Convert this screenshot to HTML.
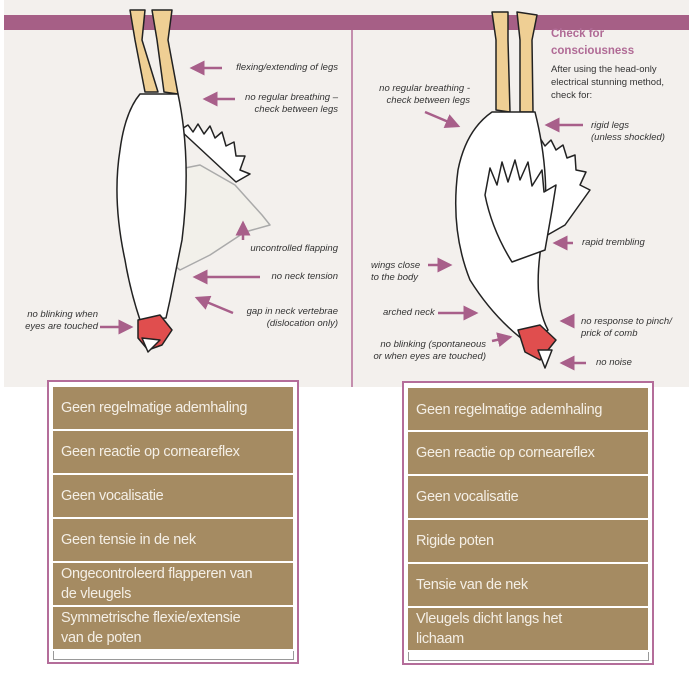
<!DOCTYPE html>
<html><head><meta charset="utf-8"><style>
body{margin:0;width:689px;height:676px;background:#fff;overflow:hidden;position:relative;font-family:"Liberation Sans",sans-serif}
.bg{position:absolute;left:4px;top:0;width:685px;height:387px;background:#f3f0ed}
.lab{position:absolute;font-style:italic;font-size:9.5px;color:#333;line-height:12px;white-space:nowrap}
.box{position:absolute;border:2px solid #b46d9a;background:#fff}
.cell{position:absolute;left:4px;width:240px;height:42px;background:#a58b62;color:#f4efe6;font-size:14.5px;line-height:20px;padding-left:8px;box-sizing:border-box;white-space:nowrap;letter-spacing:-0.3px}
</style></head><body>
<div class="bg"></div>
<svg width="689" height="390" style="position:absolute;left:0;top:0">
<defs><marker id="a" markerWidth="6" markerHeight="6" refX="5" refY="3" orient="auto"><path d="M0,0 L6,3 L0,6z" fill="#a85f8a"/></marker></defs>
<rect x="4" y="15" width="685" height="15" fill="#a65f86"/>
<line x1="352" y1="30" x2="352" y2="387" stroke="#b46d9a" stroke-width="1.5"/>
<!-- left chicken -->
<g stroke="#222" stroke-width="1.5" stroke-linejoin="round">
<path d="M130,10 L135,40 L145,92 L158,92 L142,40 L145,10Z M152,10 L157,40 L164,92 L178,94 L168,40 L172,10Z" fill="#efcf94"/>
<path d="M180,130 L188,125 L193,132 L198,124 L204,134 L210,126 L215,138 L222,132 L226,146 L234,142 L236,156 L245,156 L240,170 L250,174 L236,182 Z" fill="#fff"/>
<path d="M150,175 L200,165 L235,185 L262,215 L270,225 L245,232 L210,255 L180,270 L155,250Z" fill="#f2f0ea" stroke="#aaa"/>
<path d="M140,94 L178,94 Q192,160 182,240 Q174,280 170,300 L166,318 L140,320 Q130,290 125,260 Q112,200 120,150 Q125,112 140,94Z" fill="#fff"/>
<path d="M138,320 L160,315 L172,330 L162,345 L148,350 L138,338Z" fill="#e04e4e"/>
<path d="M142,338 L160,340 L148,352Z" fill="#fff"/>
</g>
<!-- right chicken -->
<g stroke="#222" stroke-width="1.5" stroke-linejoin="round">
<path d="M492,12 L496,40 L496,110 L510,112 L508,40 L508,12Z M517,12 L520,40 L520,112 L533,112 L532,40 L537,15Z" fill="#efcf94"/>
<path d="M532,145 L540,138 L545,146 L551,140 L556,150 L563,145 L567,158 L575,155 L576,170 L586,172 L580,185 L590,190 L565,225 L530,245Z" fill="#fff"/>
<path d="M492,112 L535,112 Q552,180 542,240 Q532,300 548,330 L530,345 Q495,320 470,280 Q450,230 458,170 Q466,130 492,112Z" fill="#fff"/>
<path d="M485,195 L490,168 L497,185 L502,162 L508,182 L515,160 L520,180 L528,162 L532,186 L542,170 L544,192 L556,185 L552,210 L545,250 L512,262 Q492,230 485,195Z" fill="#fff"/>
<path d="M518,330 L540,325 L556,340 L548,350 L540,360 L525,352Z" fill="#e04e4e"/>
<path d="M538,350 L552,350 L545,368Z" fill="#fff"/>
</g>
<g stroke="#a85f8a" stroke-width="2.5" marker-end="url(#a)" fill="none">
<line x1="222" y1="68" x2="192" y2="68"/><line x1="235" y1="99" x2="205" y2="99"/>
<line x1="243" y1="240" x2="243" y2="223"/><line x1="260" y1="277" x2="195" y2="277"/>
<line x1="233" y1="313" x2="197" y2="298"/><line x1="100" y1="327" x2="131" y2="327"/>
<line x1="425" y1="112" x2="458" y2="126"/><line x1="583" y1="125" x2="547" y2="125"/>
<line x1="573" y1="243" x2="555" y2="243"/><line x1="428" y1="265" x2="450" y2="265"/>
<line x1="438" y1="313" x2="476" y2="313"/><line x1="573" y1="321" x2="562" y2="321"/>
<line x1="492" y1="341" x2="510" y2="337"/><line x1="586" y1="363" x2="562" y2="363"/>
</g>
</svg>
<div class="lab" style="left:225px;top:62px;width:113px;text-align:right">flexing/extending of legs</div>
<div class="lab" style="left:220px;top:92px;width:118px;text-align:right">no regular breathing –<br>check between legs</div>
<div class="lab" style="left:220px;top:243px;width:118px;text-align:right">uncontrolled flapping</div>
<div class="lab" style="left:220px;top:271px;width:118px;text-align:right">no neck tension</div>
<div class="lab" style="left:220px;top:306px;width:118px;text-align:right">gap in neck vertebrae<br>(dislocation only)</div>
<div class="lab" style="left:10px;top:309px;width:88px;text-align:right">no blinking when<br>eyes are touched</div>
<div style="position:absolute;left:551px;top:26px;color:#b06a95;font-weight:bold;font-size:11.5px;line-height:17px">Check for<br>consciousness</div>
<div style="position:absolute;left:551px;top:63px;color:#333;font-size:9.5px;line-height:13px">After using the head-only<br>electrical stunning method,<br>check for:</div>
<div class="lab" style="left:360px;top:83px;width:110px;text-align:right">no regular breathing -<br>check between legs</div>
<div class="lab" style="left:591px;top:120px">rigid legs<br>(unless shockled)</div>
<div class="lab" style="left:582px;top:237px">rapid trembling</div>
<div class="lab" style="left:371px;top:260px">wings close<br>to the body</div>
<div class="lab" style="left:383px;top:307px">arched neck</div>
<div class="lab" style="left:581px;top:316px">no response to pinch/<br>prick of comb</div>
<div class="lab" style="left:362px;top:339px;width:124px;text-align:right">no blinking (spontaneous<br>or when eyes are touched)</div>
<div class="lab" style="left:596px;top:357px">no noise</div>

<div class="box" style="left:47px;top:380px;width:248px;height:280px">
<div class="cell" style="top:5px;padding-top:11px">Geen regelmatige ademhaling</div>
<div class="cell" style="top:49px;padding-top:11px">Geen reactie op corneareflex</div>
<div class="cell" style="top:93px;padding-top:11px">Geen vocalisatie</div>
<div class="cell" style="top:137px;padding-top:11px">Geen tensie in de nek</div>
<div class="cell" style="top:181px;padding-top:1px">Ongecontroleerd flapperen van<br>de vleugels</div>
<div class="cell" style="top:225px;padding-top:1px">Symmetrische flexie/extensie<br>van de poten</div>
<div style="position:absolute;left:4px;top:269px;width:239px;height:8px;border:1px solid #999;border-top:none"></div>
</div>
<div class="box" style="left:402px;top:381px;width:248px;height:280px">
<div class="cell" style="top:5px;padding-top:12px">Geen regelmatige ademhaling</div>
<div class="cell" style="top:49px;padding-top:11px">Geen reactie op corneareflex</div>
<div class="cell" style="top:93px;padding-top:11px">Geen vocalisatie</div>
<div class="cell" style="top:137px;padding-top:11px">Rigide poten</div>
<div class="cell" style="top:181px;padding-top:11px">Tensie van de nek</div>
<div class="cell" style="top:225px;padding-top:1px">Vleugels dicht langs het<br>lichaam</div>
<div style="position:absolute;left:4px;top:269px;width:239px;height:8px;border:1px solid #999;border-top:none"></div>
</div>
</body></html>
